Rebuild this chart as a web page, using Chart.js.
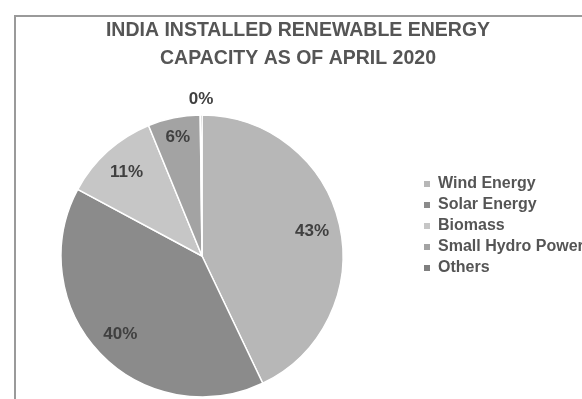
<!DOCTYPE html>
<html>
<head>
<meta charset="utf-8">
<script src="https://cdn.jsdelivr.net/npm/chart.js@4/dist/chart.umd.min.js"></script>
<style>
  html, body { margin: 0; padding: 0; background: #fff; overflow: hidden; width: 582px; height: 399px; }
  #frame { position: absolute; left: 14px; top: 15px; width: 640px; height: 420px;
           border-left: 2px solid #9a9a9a; border-top: 2px solid #9a9a9a; }
  #wrap { position: absolute; left: -20px; top: 0; width: 700px; height: 399px; }
</style>
</head>
<body>
<div id="frame"></div>
<div id="wrap"><canvas id="chart" width="700" height="399"></canvas></div>
<script>
// Installed renewable capacity shares, April 2020 (percent)
const categories = ['Wind Energy', 'Solar Energy', 'Biomass', 'Small Hydro Power', 'Others'];
const shares = [43, 40, 11, 6, 0.2];
const sliceColors = ['#b7b7b7', '#8b8b8b', '#c6c6c6', '#a3a3a3', '#7f7f7f'];
const titleLines = ['INDIA INSTALLED RENEWABLE ENERGY', 'CAPACITY AS OF APRIL 2020'];

const textGrey = '#555555';
const fontFamily = "'Liberation Sans', Arial, sans-serif";

// Fixed legend column width so the pie sits left of the legend
const legendWidth = {
  id: 'legendWidth',
  beforeInit(chart) {
    const fit = chart.legend.fit;
    chart.legend.fit = function () { fit.call(this); this.width = 192; };
  }
};

// Percentage labels on each slice (outside the rim for very thin slices)
const sliceLabels = {
  id: 'sliceLabels',
  afterDatasetsDraw(chart) {
    const ctx = chart.ctx;
    const data = chart.data.datasets[0].data;
    const total = data.reduce((a, b) => a + b, 0);
    const meta = chart.getDatasetMeta(0);
    ctx.save();
    ctx.font = 'bold 17px ' + fontFamily;
    ctx.fillStyle = '#404040';
    ctx.textAlign = 'center';
    ctx.textBaseline = 'middle';
    meta.data.forEach((arc, i) => {
      const p = arc.getProps(['x', 'y', 'startAngle', 'endAngle', 'outerRadius'], true);
      const mid = (p.startAngle + p.endAngle) / 2;
      const pct = data[i] / total * 100;
      let r;
      if (pct < 1) r = p.outerRadius + 16;
      else if (pct < 8) r = p.outerRadius * 0.86;
      else r = p.outerRadius * 0.8;
      ctx.fillText(Math.round(pct) + '%', p.x + Math.cos(mid) * r, p.y + Math.sin(mid) * r);
    });
    ctx.restore();
  }
};

new Chart(document.getElementById('chart'), {
  type: 'pie',
  data: {
    labels: categories,
    datasets: [{
      data: shares,
      backgroundColor: sliceColors,
      borderColor: '#ffffff',
      borderWidth: 1.5,
      clip: false
    }]
  },
  options: {
    responsive: false,
    animation: false,
    devicePixelRatio: 1,
    radius: 141,
    layout: { padding: { left: 5, right: 69, top: 0, bottom: 58 } },
    plugins: {
      tooltip: { enabled: false },
      title: {
        display: true,
        text: titleLines,
        color: textGrey,
        font: { family: fontFamily, size: 19.5, weight: 'bold', lineHeight: 28 / 19.5 },
        padding: { top: 17, bottom: 98 }
      },
      legend: {
        position: 'right',
        align: 'start',
        fullSize: false,
        labels: {
          boxWidth: 6,
          boxHeight: 6,
          padding: 5,
          color: textGrey,
          font: { family: fontFamily, size: 16, weight: 'bold' },
          generateLabels(chart) {
            const items = Chart.overrides.pie.plugins.legend.labels.generateLabels(chart);
            items.forEach(it => { it.lineWidth = 0; });
            return items;
          }
        }
      }
    }
  },
  plugins: [legendWidth, sliceLabels]
});
</script>
</body>
</html>
